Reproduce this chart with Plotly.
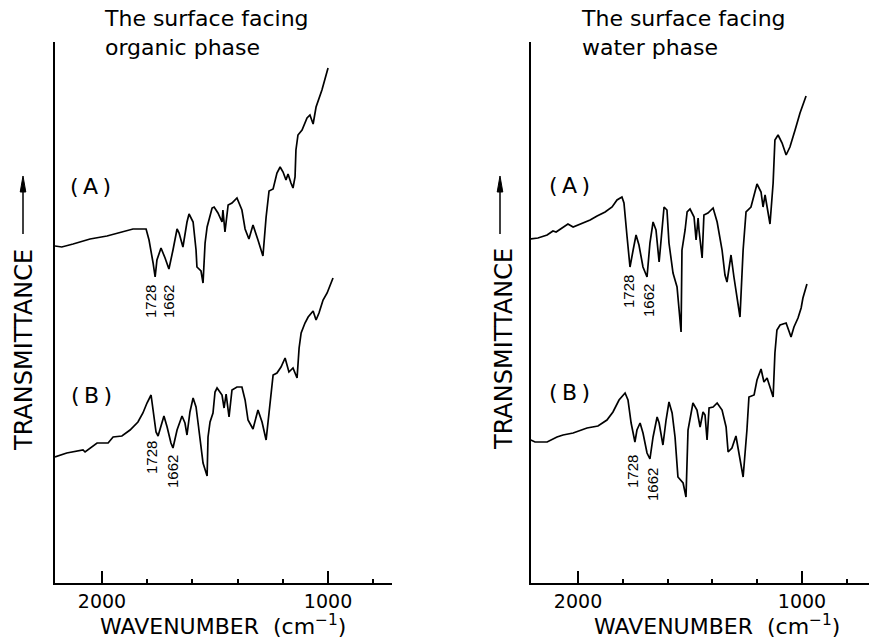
import plotly.graph_objects as go

# ---------------- data (wavenumber in cm^-1, transmittance in arbitrary units) ----------------
wn_org_A = [2208, 2178, 2128, 2053, 1978, 1907, 1863, 1805, 1792, 1774, 1765, 1757, 1739, 1721, 1704,
            1686, 1668, 1659, 1642, 1624, 1615, 1597, 1584, 1580, 1562, 1553, 1544, 1535, 1513, 1504,
            1487, 1469, 1465, 1456, 1442, 1425, 1403, 1381, 1367, 1350, 1332, 1310, 1288, 1274, 1261,
            1243, 1226, 1212, 1199, 1186, 1177, 1164, 1155, 1146, 1142, 1133, 1115, 1093, 1080, 1066,
            1053, 1027, 1000]
T_org_A = [337, 336, 339, 344, 347, 351, 354, 354, 343, 320, 306, 323, 335, 325, 314,
           333, 354, 350, 336, 361, 369, 361, 333, 316, 312, 300, 340, 356, 375, 376,
           370, 361, 373, 351, 378, 380, 385, 373, 354, 344, 358, 343, 327, 366, 392,
           394, 410, 416, 411, 403, 409, 400, 395, 406, 433, 448, 453, 465, 468, 459,
           476, 493, 515]

wn_org_B = [2208, 2156, 2084, 2075, 2022, 1973, 1951, 1912, 1876, 1841, 1819, 1801, 1783, 1774, 1761,
            1752, 1739, 1726, 1712, 1695, 1686, 1668, 1646, 1633, 1624, 1611, 1597, 1584, 1575, 1562,
            1553, 1535, 1531, 1522, 1509, 1500, 1491, 1469, 1460, 1451, 1447, 1438, 1425, 1403, 1381,
            1367, 1354, 1332, 1310, 1292, 1274, 1261, 1243, 1226, 1208, 1190, 1173, 1155, 1137, 1128,
            1119, 1102, 1088, 1066, 1053, 1040, 1022, 1004, 987, 978]
T_org_B = [126, 130, 133, 131, 140, 140, 146, 147, 153, 161, 170, 180, 188, 173, 151,
           147, 156, 167, 156, 140, 135, 153, 167, 160, 148, 171, 185, 176, 160, 133,
           120, 107, 146, 161, 170, 191, 195, 188, 175, 189, 181, 166, 193, 196, 196,
           183, 163, 154, 173, 161, 143, 173, 208, 210, 216, 225, 211, 215, 205, 235,
           250, 260, 266, 272, 263, 270, 283, 290, 301, 305]

wn_wat_A = [2217, 2179, 2138, 2112, 2098, 2067, 2045, 2022, 1991, 1946, 1915, 1879, 1848, 1826, 1804,
            1795, 1781, 1768, 1754, 1741, 1728, 1710, 1692, 1679, 1665, 1652, 1638, 1625, 1616, 1603,
            1594, 1576, 1558, 1540, 1536, 1522, 1513, 1500, 1482, 1473, 1464, 1460, 1446, 1438, 1420,
            1397, 1379, 1357, 1344, 1335, 1317, 1304, 1277, 1263, 1250, 1228, 1210, 1201, 1183, 1174,
            1165, 1156, 1143, 1129, 1125, 1121, 1107, 1089, 1071, 1054, 1031, 1009, 982]
T_wat_A = [344, 345, 348, 352, 351, 356, 359, 356, 359, 363, 367, 371, 376, 383, 386,
           380, 346, 316, 333, 348, 338, 316, 306, 340, 361, 353, 321, 356, 376, 373,
           340, 310, 296, 251, 333, 353, 371, 374, 366, 343, 365, 353, 325, 368, 370,
           375, 361, 333, 308, 301, 328, 306, 266, 333, 371, 376, 393, 399, 391, 376,
           388, 375, 359, 400, 433, 443, 448, 440, 428, 436, 453, 470, 487]

wn_wat_B = [2211, 2192, 2138, 2094, 2067, 2022, 1960, 1911, 1871, 1844, 1817, 1790, 1777, 1763, 1746,
            1737, 1723, 1710, 1692, 1679, 1665, 1647, 1638, 1621, 1607, 1594, 1580, 1567, 1554, 1531,
            1518, 1509, 1491, 1487, 1469, 1455, 1442, 1433, 1424, 1415, 1397, 1379, 1357, 1339, 1330,
            1313, 1295, 1281, 1263, 1246, 1237, 1214, 1201, 1183, 1170, 1156, 1143, 1129, 1121, 1112,
            1098, 1071, 1049, 1036, 1018, 1004, 996, 978]
T_wat_B = [143, 141, 141, 146, 148, 150, 155, 157, 163, 171, 183, 190, 183, 160, 141,
           153, 160, 150, 130, 124, 146, 166, 160, 138, 163, 181, 170, 146, 106, 100,
           86, 153, 175, 180, 173, 156, 171, 168, 143, 175, 176, 180, 173, 156, 131,
           135, 147, 130, 106, 153, 186, 188, 203, 214, 201, 205, 196, 186, 230, 253,
           258, 260, 246, 256, 265, 275, 285, 299]

major_ticks = [2000, 1000]
major_labels = ["2000", "1000"]
minor_ticks = [1800, 1600, 1400, 1200, 800]

panel_titles = ["The surface facing<br>organic phase", "The surface facing<br>water phase"]
peak_labels = ["1728", "1662"]
spec_labels = ["(\u2009A\u2009)", "(\u2009B\u2009)"]
x_title = "WAVENUMBER\u00a0\u00a0(cm<sup>−1</sup>)"
y_title = "TRANSMITTANCE"

# ---------------- figure ----------------
W, H = 869, 644
def fx(p):
    return p / W
def fy(p):
    return 1 - p / H

fig = go.Figure()
line_style = dict(color="black", width=1.7)
fig.add_trace(go.Scatter(x=wn_org_A, y=T_org_A, mode="lines", line=line_style, xaxis="x", yaxis="y"))
fig.add_trace(go.Scatter(x=wn_org_B, y=T_org_B, mode="lines", line=line_style, xaxis="x", yaxis="y"))
fig.add_trace(go.Scatter(x=wn_wat_A, y=T_wat_A, mode="lines", line=line_style, xaxis="x2", yaxis="y2"))
fig.add_trace(go.Scatter(x=wn_wat_B, y=T_wat_B, mode="lines", line=line_style, xaxis="x2", yaxis="y2"))

font_main = "DejaVu Sans"
xcommon = dict(
    tickmode="array", tickvals=major_ticks, ticktext=major_labels,
    ticks="inside", ticklen=12, tickwidth=1.5, tickcolor="black",
    minor=dict(tickvals=minor_ticks, ticks="inside", ticklen=4, tickwidth=1.5, tickcolor="black"),
    showline=True, linecolor="black", linewidth=2, showgrid=False, zeroline=False,
    tickfont=dict(family=font_main, size=19, color="black"),
)
ycommon = dict(range=[0, 541], showline=True, linecolor="black", linewidth=2,
               showgrid=False, zeroline=False, showticklabels=False, ticks="")

y_dom = [fy(583), fy(42)]
fig.update_layout(
    width=W, height=H, margin=dict(l=0, r=0, t=0, b=0),
    paper_bgcolor="white", plot_bgcolor="white", showlegend=False,
    xaxis=dict(domain=[fx(55), fx(392)], range=[2208, 717], anchor="y", **xcommon),
    yaxis=dict(domain=y_dom, anchor="x", **ycommon),
    xaxis2=dict(domain=[fx(531), 1.0], range=[2210, 701], anchor="y2", **xcommon),
    yaxis2=dict(domain=y_dom, anchor="x2", **ycommon),
)

ann = []
def txt(text, x, y, size, angle=0, xanchor="center", yanchor="middle", family=font_main, align="center"):
    ann.append(dict(text=text, x=fx(x), y=fy(y), xref="paper", yref="paper", showarrow=False,
                    xanchor=xanchor, yanchor=yanchor, textangle=angle, align=align,
                    font=dict(family=family, size=size, color="black")))

# panel titles
txt(panel_titles[0], 102, 33, 22, xanchor="left", align="left")
txt(panel_titles[1], 579, 33, 22, xanchor="left", align="left")

# spectrum labels
txt(spec_labels[0], 90, 186, 22)
txt(spec_labels[1], 91, 395, 22)
txt(spec_labels[0], 569, 185, 22)
txt(spec_labels[1], 569, 392, 22)

# peak labels
pk = "Liberation Sans"
for (x1, y1, x2, y2) in [(150, 302, 168, 302), (152, 458, 172, 472), (628, 292, 648, 301), (632, 472, 653, 485)]:
    txt(peak_labels[0], x1, y1, 15, angle=-90, family=pk)
    txt(peak_labels[1], x2, y2, 15, angle=-90, family=pk)

# axis titles
txt(x_title, 223, 625, 22)
txt(x_title, 717, 625, 22)
txt(y_title, 24, 350, 24, angle=-90)
txt(y_title, 504, 349, 24, angle=-90)

fig.update_layout(annotations=ann)

# arrows next to the transmittance labels (drawn as shapes)
shapes = []
for xa in (23, 500):
    shapes.append(dict(type="line", xref="paper", yref="paper",
                       x0=fx(xa), x1=fx(xa), y0=fy(234), y1=fy(188),
                       line=dict(color="black", width=1.5)))
    path = "M {:.5f},{:.5f} L {:.5f},{:.5f} L {:.5f},{:.5f} Z".format(
        fx(xa - 2.8), fy(192), fx(xa), fy(176), fx(xa + 2.8), fy(192))
    shapes.append(dict(type="path", xref="paper", yref="paper", path=path,
                       fillcolor="black", line=dict(color="black", width=1)))
fig.update_layout(shapes=shapes)

fig.write_html("out.html")
